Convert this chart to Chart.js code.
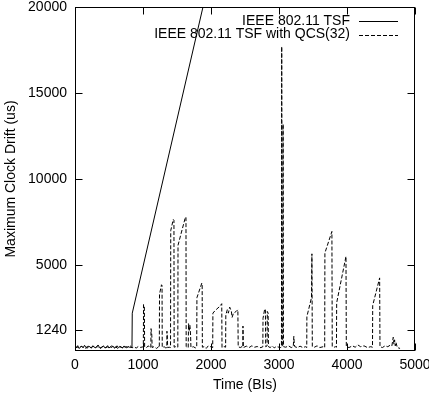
<!DOCTYPE html>
<html>
<head>
<meta charset="utf-8">
<script src="https://cdn.jsdelivr.net/npm/chart.js@4.4.1/dist/chart.umd.min.js"></script>
<style>
  html, body { margin: 0; padding: 0; background: #fff; }
  #wrap { width: 429px; height: 420px; }
</style>
</head>
<body>
<div id="wrap"><canvas id="driftChart" width="429" height="420"></canvas></div>
<script>
// series labels
const seriesNames = ['IEEE 802.11 TSF', 'IEEE 802.11 TSF with QCS(32)'];

// axis ticks
const xTicks = [0, 1000, 2000, 3000, 4000, 5000];
const yTicks = [1240, 5000, 10000, 15000, 20000];

// IEEE 802.11 TSF (solid): noisy floor, then linear runaway off the top
const tsfX = [0, 20, 40, 60, 80, 100, 120, 140, 160, 180, 200, 220, 240, 260, 280, 300, 320, 340, 360, 380,
  400, 420, 440, 460, 480, 500, 520, 540, 560, 580, 600, 620, 640, 660, 680, 700, 720, 740, 760, 780,
  800, 820, 838, 842, 1882];
const tsfY = [260, 180, 310, 150, 220, 270, 190, 330, 210, 160, 280, 240, 170, 300, 230, 190, 260, 350, 200, 150,
  240, 290, 180, 220, 310, 170, 250, 200, 280, 160, 230, 300, 190, 250, 210, 170, 290, 230, 180, 260,
  220, 200, 210, 2200, 20000];

// IEEE 802.11 TSF with QCS(32) (dashed)
const qcsX = [
  0, 30, 60, 90, 120, 150, 180, 210, 240, 270, 300, 330, 360, 390, 420, 450, 480,
  510, 540, 570, 600, 630, 660, 690, 720, 750, 780, 810, 840, 870, 900, 930, 960, 990,
  1005, 1008, 1020, 1024,
  1050, 1080, 1100,
  1115, 1118, 1125, 1130, 1134,
  1160, 1200, 1230,
  1240, 1243, 1272, 1280, 1283,
  1310, 1335,
  1350, 1352, 1358, 1362,
  1385,
  1405, 1408, 1445, 1455, 1458,
  1480, 1500,
  1512, 1515, 1625, 1632, 1635,
  1650,
  1665, 1670, 1680, 1690, 1700, 1705,
  1740, 1770,
  1790, 1793, 1865, 1870, 1873,
  1900, 1930, 1960, 2000,
  2025, 2028, 2060, 2130, 2158, 2162,
  2190,
  2215, 2218, 2240, 2255, 2275, 2300, 2310, 2330, 2370, 2395, 2400,
  2430, 2455,
  2468, 2470, 2476,
  2520, 2560, 2600, 2640, 2680, 2720, 2750,
  2762, 2765, 2790, 2800, 2804, 2825, 2828, 2840, 2845,
  2870, 2900, 2930, 2960, 3000, 3025,
  3036, 3040, 3046, 3055, 3060, 3066,
  3100, 3140, 3180,
  3210, 3218, 3225, 3232,
  3270, 3310, 3350, 3390,
  3408, 3410, 3478, 3484, 3490,
  3520, 3560, 3600, 3650,
  3672, 3675, 3778, 3783,
  3810, 3830,
  3845, 3848, 3985, 3990,
  4030, 4080, 4120, 4160, 4200, 4250, 4300, 4350,
  4375, 4378, 4480, 4485,
  4520, 4560, 4600, 4640,
  4660, 4680, 4690, 4700, 4710, 4720, 4740, 4780
];
const qcsY = [
  190, 240, 170, 280, 210, 150, 260, 230, 180, 300, 200, 250, 160, 220, 290, 190, 240,
  170, 310, 200, 230, 150, 270, 210, 180, 250, 220, 300, 190, 240, 170, 260, 210, 230,
  250, 2700, 2600, 230,
  200, 300, 180,
  220, 1300, 1100, 900, 200,
  250, 150, 250,
  200, 3300, 3850, 3800, 200,
  250, 180,
  200, 1150, 900, 200,
  220,
  200, 7000, 7650, 7600, 220,
  250, 200,
  220, 6150, 7800, 7750, 250,
  200,
  200, 1600, 1200, 1500, 900, 200,
  250, 180,
  220, 3100, 3950, 3900, 220,
  250, 150, 300, 240,
  200, 2200, 2350, 2600, 2750, 200,
  260,
  220, 2100, 2400, 2200, 2550, 2300, 1950, 2200, 2300, 2400, 250,
  200, 250,
  200, 1450, 200,
  280, 200, 300, 220, 260, 190, 220,
  250, 1900, 2450, 2400, 250, 300, 2300, 2200, 250,
  200, 300, 180, 260, 220, 200,
  250, 17700, 250, 300, 13200, 250,
  220, 300, 200,
  250, 850, 400, 250,
  200, 280, 200, 250,
  200, 2000, 3100, 5650, 250,
  220, 300, 200, 250,
  200, 5700, 6950, 250,
  220, 250,
  220, 2800, 5500, 250,
  200, 300, 220, 350, 250, 300, 200, 250,
  220, 2650, 4250, 250,
  200, 300, 250, 350,
  300, 800, 400, 650, 300, 500, 200, 150
];

const toPoints = (xs, ys) => xs.map((x, i) => ({ x: x, y: ys[i] }));

Chart.defaults.font.family = "'Liberation Sans', Arial, sans-serif";
Chart.defaults.font.size = 14;
Chart.defaults.color = '#000';

// gnuplot style frame, inward ticks and legend
const gnuplotFrame = {
  id: 'gnuplotFrame',
  afterDatasetsDraw(chart) {
    const ctx = chart.ctx;
    const a = chart.chartArea;
    const xs = chart.scales.x, ys = chart.scales.y;
    const L = Math.round(a.left) + 0.5, R = Math.round(a.right) - 0.5;
    const T = Math.round(a.top) + 0.5, B = Math.round(a.bottom) - 0.5;
    const tl = 7;
    ctx.save();
    ctx.strokeStyle = '#000';
    ctx.lineWidth = 1;
    ctx.setLineDash([]);
    ctx.strokeRect(L, T, R - L, B - T);
    ctx.beginPath();
    xTicks.forEach(v => {
      const px = Math.round(xs.getPixelForValue(v)) + 0.5;
      ctx.moveTo(px, B); ctx.lineTo(px, B - tl);
      ctx.moveTo(px, T); ctx.lineTo(px, T + tl);
    });
    yTicks.forEach(v => {
      const py = Math.round(ys.getPixelForValue(v)) + 0.5;
      ctx.moveTo(L, py); ctx.lineTo(L + tl, py);
      ctx.moveTo(R, py); ctx.lineTo(R - tl, py);
    });
    ctx.stroke();

    // legend, top right inside the plot
    ctx.font = "14px 'Liberation Sans', Arial, sans-serif";
    ctx.textAlign = 'right';
    ctx.textBaseline = 'middle';
    ctx.fillStyle = '#000';
    chart.data.datasets.forEach((ds, i) => {
      const y = 21 + i * 13.5;
      ctx.fillText(ds.label, 350, y);
      ctx.setLineDash(ds.borderDash || []);
      ctx.beginPath();
      ctx.moveTo(359, Math.round(y) + 0.5);
      ctx.lineTo(398, Math.round(y) + 0.5);
      ctx.stroke();
    });
    ctx.restore();
  }
};

new Chart(document.getElementById('driftChart'), {
  type: 'line',
  data: {
    datasets: [
      {
        label: seriesNames[0],
        data: toPoints(tsfX, tsfY),
        borderColor: '#000',
        borderWidth: 1,
        pointRadius: 0,
        tension: 0
      },
      {
        label: seriesNames[1],
        data: toPoints(qcsX, qcsY),
        borderColor: '#000',
        borderWidth: 1,
        borderDash: [4, 2],
        pointRadius: 0,
        tension: 0
      }
    ]
  },
  options: {
    responsive: false,
    animation: false,
    layout: { padding: { left: 0, right: 14, top: 7, bottom: 25 } },
    plugins: { legend: { display: false }, tooltip: { enabled: false } },
    scales: {
      x: {
        type: 'linear',
        min: 0,
        max: 5000,
        grid: { display: false, drawTicks: false },
        border: { display: false },
        ticks: { padding: 6, maxRotation: 0, callback: v => String(v) },
        title: { display: true, text: 'Time (BIs)', padding: { top: 0, bottom: 1 } },
        afterBuildTicks: s => { s.ticks = xTicks.map(v => ({ value: v })); },
        afterFit: s => { s.height = 44; s.paddingLeft = 0; s.paddingRight = 0; }
      },
      y: {
        min: 0,
        max: 20000,
        grid: { display: false, drawTicks: false },
        border: { display: false },
        ticks: { padding: 8, callback: v => String(v) },
        title: { display: true, text: 'Maximum Clock Drift (us)', padding: { top: 3, bottom: 0 } },
        afterBuildTicks: s => { s.ticks = yTicks.map(v => ({ value: v })); },
        afterFit: s => { s.width = 75; s.paddingTop = 0; s.paddingBottom = 0; }
      }
    }
  },
  plugins: [gnuplotFrame]
});
</script>
</body>
</html>
